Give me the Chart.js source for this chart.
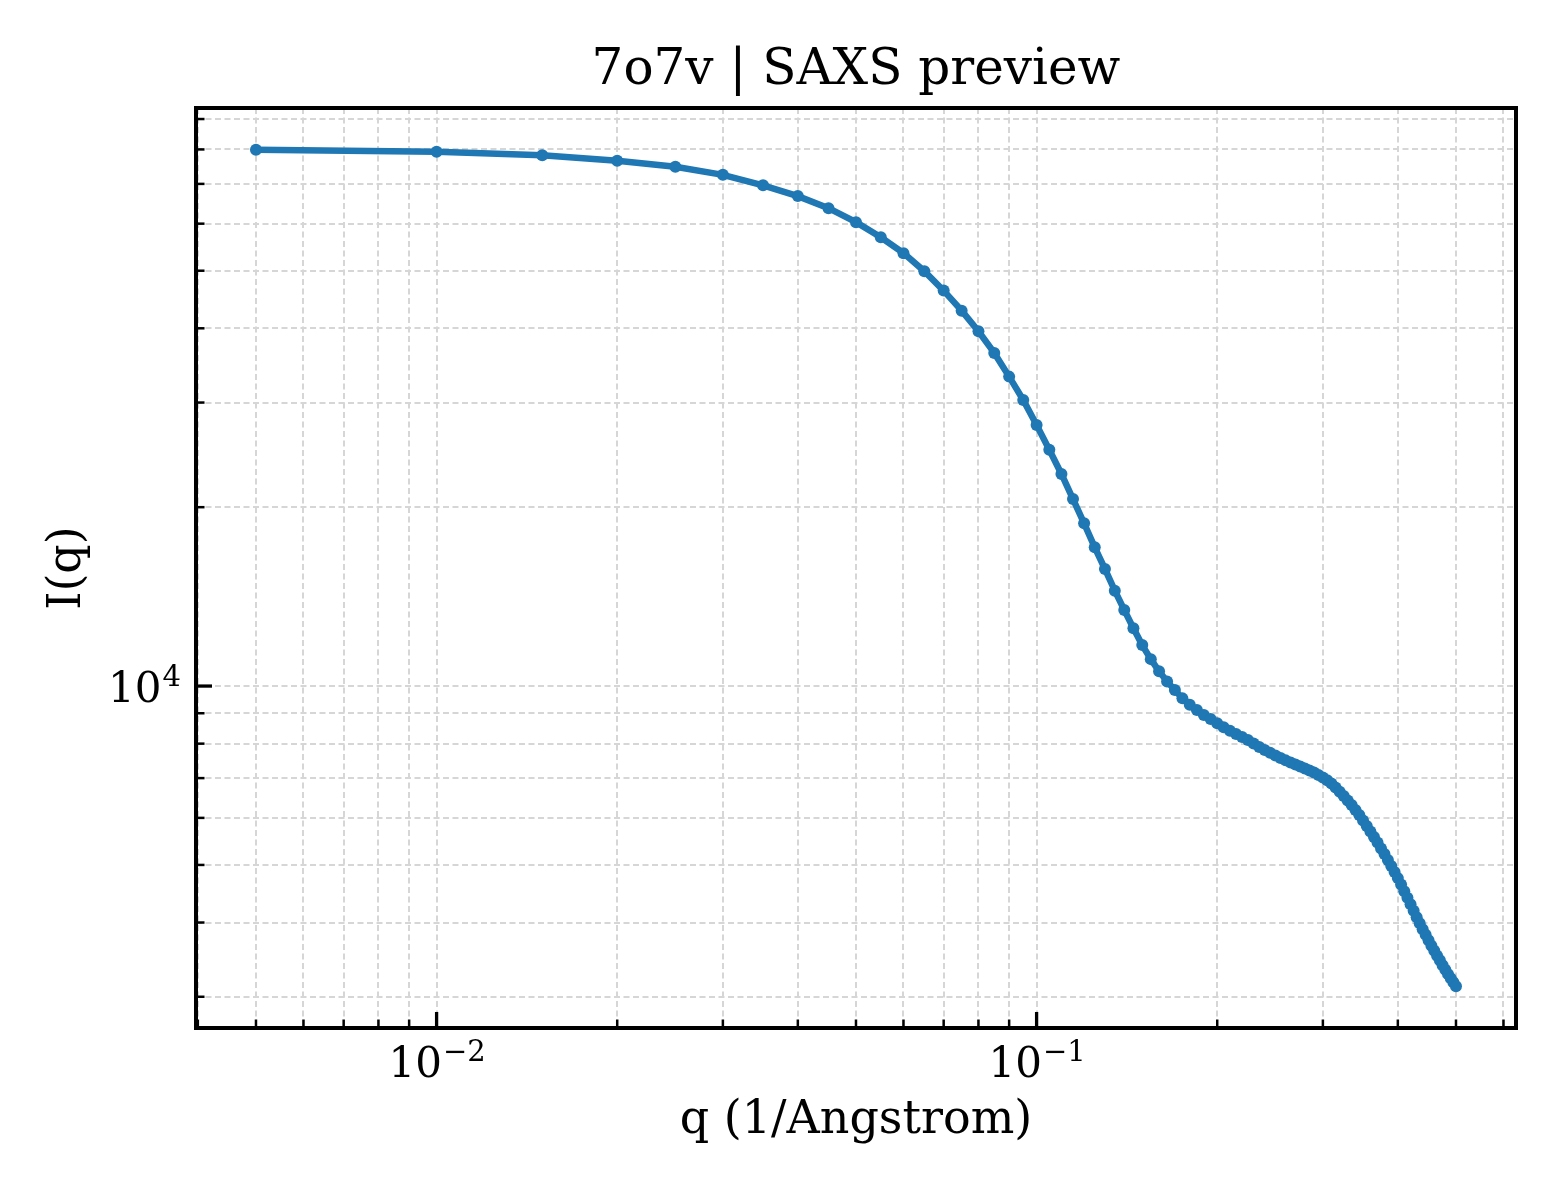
<!DOCTYPE html>
<html>
<head>
<meta charset="utf-8">
<title>7o7v | SAXS preview</title>
<script src="https://cdn.jsdelivr.net/npm/chart.js@4.4.1/dist/chart.umd.min.js"></script>
<style>
  html, body { margin: 0; padding: 0; background: #fff; }
  canvas { display: block; }
</style>
</head>
<body>
<canvas id="graficoSaxs" width="1560" height="1200"></canvas>
<script>
var qValues = [
  0.005, 0.010, 0.015, 0.020, 0.025, 0.030, 0.035, 0.040, 0.045, 0.050,
  0.055, 0.060, 0.065, 0.070, 0.075, 0.080, 0.085, 0.090, 0.095, 0.100,
  0.105, 0.110, 0.115, 0.120, 0.125, 0.130, 0.135, 0.140, 0.145, 0.150,
  0.155, 0.160, 0.165, 0.170, 0.175, 0.180, 0.185, 0.190, 0.195, 0.200,
  0.205, 0.210, 0.215, 0.220, 0.225, 0.230, 0.235, 0.240, 0.245, 0.250,
  0.255, 0.260, 0.265, 0.270, 0.275, 0.280, 0.285, 0.290, 0.295, 0.300,
  0.305, 0.310, 0.315, 0.320, 0.325, 0.330, 0.335, 0.340, 0.345, 0.350,
  0.355, 0.360, 0.365, 0.370, 0.375, 0.380, 0.385, 0.390, 0.395, 0.400,
  0.405, 0.410, 0.415, 0.420, 0.425, 0.430, 0.435, 0.440, 0.445, 0.450,
  0.455, 0.460, 0.465, 0.470, 0.475, 0.480, 0.485, 0.490, 0.495, 0.500
];

var intensity = [
  79870, 79250, 78190, 76540, 74780, 72500, 69610, 66760, 63720, 60350,
  56930, 53520, 49900, 46290, 42830, 39550, 36360, 33170, 30300, 27500,
  24990, 22750, 20640, 18790, 17120, 15740, 14470, 13430, 12510, 11720,
  11100, 10590, 10180, 9846, 9534, 9301, 9112, 8938, 8799, 8655,
  8521, 8409, 8303, 8207, 8111, 8002, 7894, 7803, 7722, 7644,
  7565, 7498, 7434, 7377, 7320, 7263, 7207, 7151, 7082, 7014,
  6940, 6855, 6750, 6640, 6530, 6416, 6306, 6185, 6066, 5938,
  5813, 5690, 5570, 5452, 5327, 5215, 5095, 4978, 4863, 4751,
  4633, 4517, 4405, 4295, 4188, 4084, 3990, 3898, 3816, 3735,
  3657, 3587, 3518, 3457, 3391, 3332, 3275, 3224, 3175, 3126
];

// ticks del eje x (log): base 10 y exponente
var xMajorTicks = [0.01, 0.1];
var xMajorExp = ['\u22122', '\u22121'];
var xMinorTicks = [0.004, 0.005, 0.006, 0.007, 0.008, 0.009,
  0.02, 0.03, 0.04, 0.05, 0.06, 0.07, 0.08, 0.09,
  0.2, 0.3, 0.4, 0.5, 0.6];

// ticks del eje y (log)
var yMajorTicks = [10000];
var yMajorExp = ['4'];
var yMinorTicks = [3000, 4000, 5000, 6000, 7000, 8000, 9000,
  20000, 30000, 40000, 50000, 60000, 70000, 80000, 90000];

var xMin = 0.003972, xMax = 0.6295;
var yMin = 2658, yMax = 93930;

var puntos = [];
for (var i = 0; i < qValues.length; i++) {
  puntos.push({ x: qValues[i], y: intensity[i] });
}

var xTicks = xMinorTicks.concat(xMajorTicks);
var yTicks = yMinorTicks.concat(yMajorTicks);
var fuente = 'DejaVu Serif';

// dibuja "10" con el exponente elevado, como mathtext
function potencia(c, exp, x, y, align) {
  c.font = '42px "' + fuente + '"';
  var wBase = c.measureText('10').width;
  c.font = '29px "' + fuente + '"';
  var wExp = c.measureText(exp).width;
  var x0 = align === 'right' ? x - wBase - wExp : x - (wBase + wExp) / 2;
  c.textAlign = 'left';
  c.textBaseline = 'alphabetic';
  c.font = '42px "' + fuente + '"';
  c.fillText('10', x0, y);
  c.font = '29px "' + fuente + '"';
  c.fillText(exp, x0 + wBase + 1, y - 16);
}

/* ---------- marco, ticks hacia adentro, etiquetas y titulo ---------- */
var marco = {
  id: 'marco',
  afterDraw: function (chart) {
    var c = chart.ctx;
    var a = chart.chartArea;
    var sx = chart.scales.x;
    var sy = chart.scales.y;
    c.save();
    c.strokeStyle = '#000';
    xTicks.forEach(function (v) {
      var px = sx.getPixelForValue(v);
      var mayor = xMajorTicks.indexOf(v) >= 0;
      c.lineWidth = mayor ? 3.3 : 2.5;
      c.beginPath();
      c.moveTo(px, a.bottom);
      c.lineTo(px, a.bottom - (mayor ? 16 : 8.5));
      c.stroke();
    });
    yTicks.forEach(function (v) {
      var py = sy.getPixelForValue(v);
      var mayor = yMajorTicks.indexOf(v) >= 0;
      c.lineWidth = mayor ? 3.3 : 2.5;
      c.beginPath();
      c.moveTo(a.left, py);
      c.lineTo(a.left + (mayor ? 16 : 8.5), py);
      c.stroke();
    });
    c.lineWidth = 4;
    c.strokeRect(a.left, a.top, a.right - a.left, a.bottom - a.top);

    c.fillStyle = '#000';
    xMajorTicks.forEach(function (v, k) {
      potencia(c, xMajorExp[k], sx.getPixelForValue(v), a.bottom + 49, 'center');
    });
    yMajorTicks.forEach(function (v, k) {
      potencia(c, yMajorExp[k], a.left - 16, sy.getPixelForValue(v) + 15.5, 'right');
    });

    c.font = '50px "' + fuente + '"';
    c.textAlign = 'center';
    c.textBaseline = 'alphabetic';
    c.fillText('7o7v | SAXS preview', (a.left + a.right) / 2, 84);
    c.restore();
  }
};

var ctx = document.getElementById("graficoSaxs").getContext("2d");
var graficoSaxs = new Chart(ctx, {
  type: 'line',
  data: {
    datasets: [{
      label: 'I(q)',
      data: puntos,
      borderColor: '#1f77b4',
      backgroundColor: '#1f77b4',
      borderWidth: 6.5,
      pointRadius: 6,
      pointHoverRadius: 6,
      pointBorderWidth: 0,
      tension: 0,
      fill: false
    }]
  },
  options: {
    responsive: false,
    devicePixelRatio: 1,
    animation: false,
    events: [],
    layout: { padding: { left: 0, top: 108, right: 44, bottom: 0 } },
    plugins: {
      legend: { display: false },
      title: { display: false },
      tooltip: { enabled: false }
    },
    scales: {
      x: {
        type: 'logarithmic',
        position: 'bottom',
        bounds: 'data',
        min: xMin,
        max: xMax,
        afterFit: function (s) { s.height = 172; },
        afterBuildTicks: function (s) {
          s.ticks = xTicks.map(function (v) { return { value: v }; });
        },
        ticks: { display: false, autoSkip: false },
        grid: { color: '#d6d6d6', lineWidth: 2, drawTicks: false },
        border: { display: false, dash: [6, 3.5] },
        title: {
          display: true,
          text: 'q (1/Angstrom)',
          color: '#000',
          font: { family: fuente, size: 46 },
          padding: { top: 0, bottom: 51 }
        }
      },
      y: {
        type: 'logarithmic',
        position: 'left',
        bounds: 'data',
        min: yMin,
        max: yMax,
        afterFit: function (s) { s.width = 196; },
        afterBuildTicks: function (s) {
          s.ticks = yTicks.map(function (v) { return { value: v }; });
        },
        ticks: { display: false, autoSkip: false },
        grid: { color: '#d6d6d6', lineWidth: 2, drawTicks: false },
        border: { display: false, dash: [6, 3.5] },
        title: {
          display: true,
          text: 'I(q)',
          color: '#000',
          font: { family: fuente, size: 46 },
          padding: { top: 40, bottom: 0 }
        }
      }
    }
  },
  plugins: [marco]
});
</script>
</body>
</html>
